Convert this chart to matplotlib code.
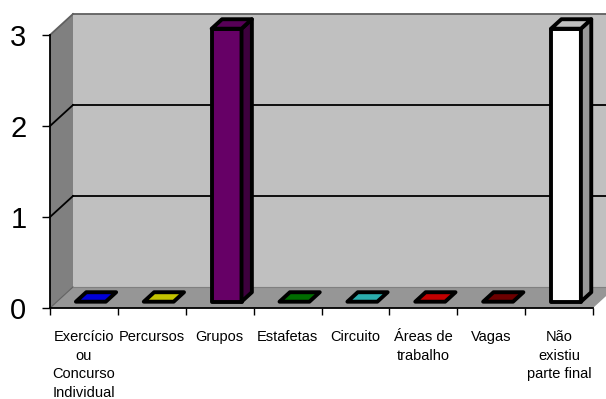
import matplotlib.pyplot as plt
import numpy as np
from matplotlib.patches import Polygon

categories = ['Exercício\nou\nConcurso\nIndividual', 'Percursos', 'Grupos', 'Estafetas',
              'Circuito', 'Áreas de\ntrabalho', 'Vagas', 'Não\nexistiu\nparte final']
values = [0, 0, 3, 0, 0, 0, 0, 3]
colors = ['#0000ff', '#e6e600', '#660066', '#008000', '#33cccc', '#e60000', '#800000', '#ffffff']
yticks = [0, 1, 2, 3]

# depth of the 3d box in data units (x: categories, y: value)
dx, dy = 0.339, 0.231
bar_w = 0.44
z0, z1 = 0.3, 0.75

plt.rcParams['font.family'] = ['Liberation Sans', 'DejaVu Sans']

fig = plt.figure(figsize=(6.06, 3.99), dpi=100)
ax = fig.add_axes([50 / 606, 91 / 399, 543 / 606, 273 / 399])
n = len(categories)
ymax = yticks[-1]
ax.set_xlim(0, n)
ax.set_ylim(0, ymax)


def shade(c, f):
    rgb = np.array(plt.matplotlib.colors.to_rgb(c))
    return tuple(rgb * f)


def poly(pts, fc, ec='none', lw=0, z=1):
    ax.add_patch(Polygon(pts, closed=True, facecolor=fc, edgecolor=ec, linewidth=lw,
                         joinstyle='round', zorder=z, clip_on=False))


# walls and floor
poly([(0, 0), (0, ymax), (dx, ymax + dy), (dx, dy)], '#808080', z=0)
poly([(dx, dy), (dx, ymax + dy), (n + dx, ymax + dy), (n + dx, dy)], '#c0c0c0', z=0)
poly([(0, 0), (n, 0), (n + dx, dy), (dx, dy)], '#969696', z=0)

# gridlines on back wall and side wall
for v in yticks[1:]:
    c = 'black' if v < ymax else '#606060'
    ax.plot([dx, n + dx], [v + dy, v + dy], color=c, lw=1.3, zorder=0.5, clip_on=False)
    ax.plot([0, dx], [v, v + dy], color=c, lw=1.3, zorder=0.5, clip_on=False)
ax.plot([0, dx], [0, dy], color='#606060', lw=0.8, zorder=0.5, clip_on=False)
ax.plot([dx, n + dx], [dy, dy], color='#808080', lw=0.8, zorder=0.5, clip_on=False)

# 3d bars
for i, (v, c) in enumerate(zip(values, colors)):
    xl = i + 0.5 - bar_w / 2
    xr = i + 0.5 + bar_w / 2
    fx0, fy0 = z0 * dx, z0 * dy
    bx, by = z1 * dx, z1 * dy
    front = [(xl + fx0, fy0), (xr + fx0, fy0), (xr + fx0, v + fy0), (xl + fx0, v + fy0)]
    side = [(xr + fx0, fy0), (xr + bx, by), (xr + bx, v + by), (xr + fx0, v + fy0)]
    top = [(xl + fx0, v + fy0), (xr + fx0, v + fy0), (xr + bx, v + by), (xl + bx, v + by)]
    top_c = shade(c, 0.75) if c == '#ffffff' else shade(c, 0.85)
    if v > 0:
        poly(front, c, 'black', 2.8, z=2)
        poly(side, shade(c, 0.6), 'black', 2.8, z=2)
    poly(top, top_c, 'black', 2.8, z=2)

for s in ['top', 'right']:
    ax.spines[s].set_visible(False)
ax.spines['left'].set_linewidth(1.3)
ax.spines['bottom'].set_linewidth(1.3)
ax.set_facecolor('none')

ax.set_yticks(yticks)
ax.set_yticklabels([str(t) for t in yticks], fontsize=21)
ax.tick_params(axis='y', direction='out', length=6, width=1, pad=11)

ax.set_xticks(np.arange(n + 1))
ax.set_xticklabels([])
ax.set_xticks(np.arange(n) + 0.5, minor=True)
ax.set_xticklabels(categories, minor=True, fontsize=10.5, linespacing=1.42)
ax.tick_params(axis='x', which='major', direction='out', length=5, width=1)
ax.tick_params(axis='x', which='minor', length=0, pad=16)

fig.savefig('out.png', dpi=100)
